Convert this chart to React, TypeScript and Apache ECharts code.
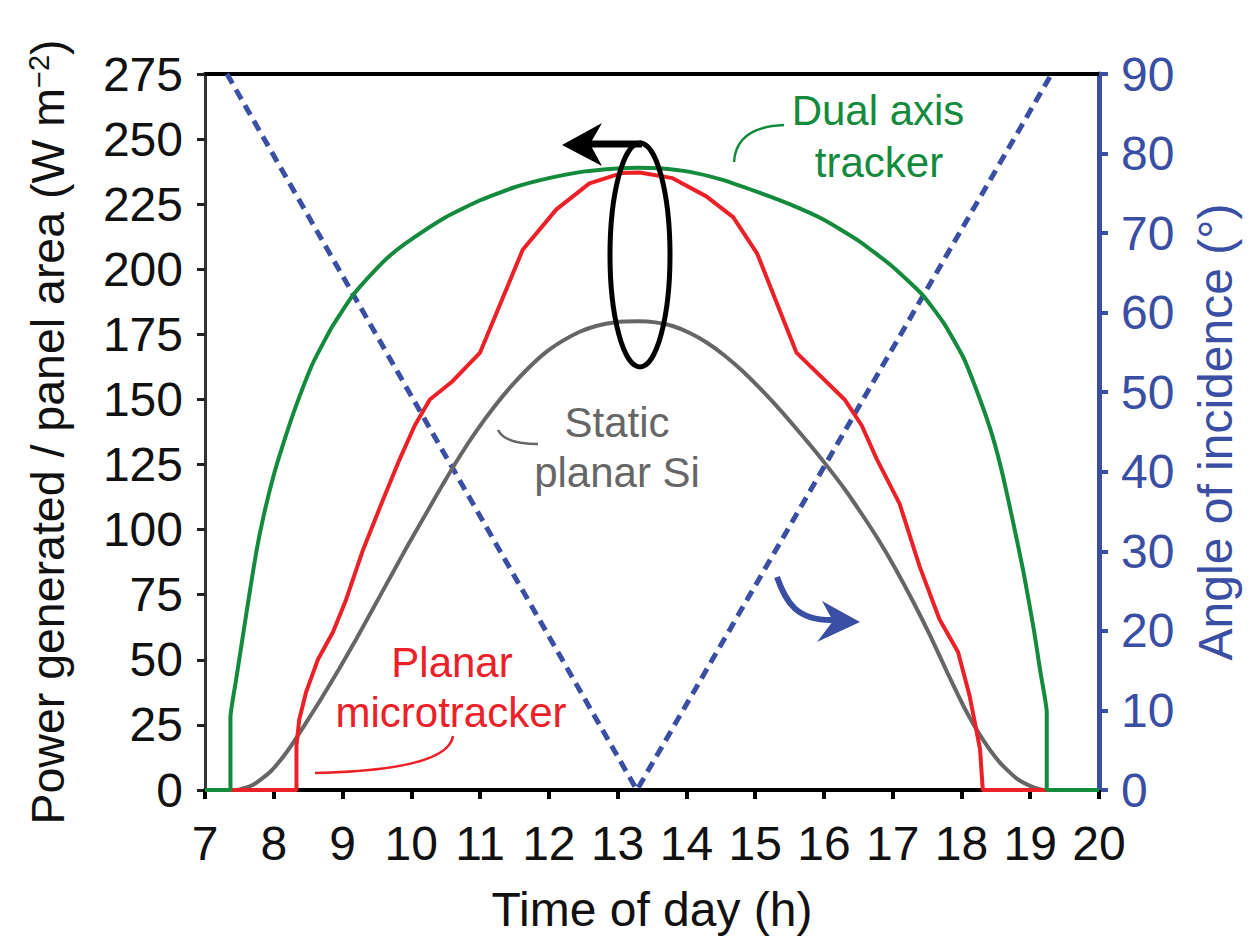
import React, { useEffect, useRef } from "react";
import * as echarts from "echarts";

const FONT = "'Liberation Sans', Arial, Helvetica, sans-serif";
const GREEN = "#138a3c";
const RED = "#ec2027";
const GRAY = "#666666";
const BLUE = "#3a4ea3";

// Time of day axis (h)
const timeMin = 7;
const timeMax = 20;
const timeStep = 1;
// Power axis (W m^-2)
const powerMin = 0;
const powerMax = 275;
const powerStep = 25;
// Angle axis (deg)
const angleMin = 0;
const angleMax = 90;
const angleStep = 10;

// [hour, W m^-2]
const dualAxisTracker: [number, number][] = [
  [7.0, 0], [7.37, 0], [7.37, 28], [7.45, 42], [7.55, 59], [7.65, 76], [7.75, 92],
  [7.85, 105], [8.0, 121], [8.15, 134], [8.33, 148], [8.57, 164], [8.85, 178],
  [9.15, 190], [9.45, 199], [9.7, 205.5], [10.0, 211.5], [10.5, 220], [11.0, 226.5],
  [11.5, 231.5], [12.0, 235], [12.5, 237.5], [13.0, 238.7], [13.3, 239], [13.6, 238.8],
  [14.05, 237.4], [14.5, 234.5], [15.0, 230], [15.5, 225], [16.0, 219], [16.5, 211],
  [17.0, 201], [17.44, 190], [17.75, 179], [18.03, 166], [18.27, 150], [18.45, 136],
  [18.6, 121], [18.75, 103], [18.9, 84], [19.05, 62], [19.15, 45], [19.24, 30],
  [19.24, 0], [20.0, 0],
];

const planarMicrotracker: [number, number][] = [
  [7.0, 0], [8.33, 0], [8.33, 17], [8.37, 27], [8.47, 37.6], [8.64, 50], [8.86, 60.6],
  [9.05, 73], [9.3, 92.4], [9.59, 111.6], [9.83, 127], [10.05, 140], [10.27, 150],
  [10.6, 157], [11.0, 168], [11.62, 207.5], [12.11, 223], [12.59, 233], [13.07, 237],
  [13.32, 237.2], [13.8, 235], [14.29, 228], [14.68, 220], [15.03, 206], [15.6, 168],
  [16.3, 150], [16.55, 140], [16.77, 127], [17.1, 110], [17.39, 86], [17.68, 65.6],
  [17.95, 53], [18.12, 36], [18.27, 15.7], [18.31, 0], [20.0, 0],
];

const staticPlanarSi: [number, number][] = [
  [7.0, 0], [7.46, 0], [7.7, 2], [7.95, 7], [8.2, 15], [8.45, 25], [8.7, 35.5],
  [8.95, 46.5], [9.2, 58], [9.45, 70], [9.7, 82], [9.95, 94], [10.2, 105.5],
  [10.45, 117], [10.7, 128], [10.95, 138], [11.2, 147], [11.45, 155], [11.7, 162],
  [11.95, 168], [12.2, 172.5], [12.45, 176], [12.7, 178.3], [12.95, 179.6],
  [13.3, 180], [13.55, 179.6], [13.8, 178.2], [14.05, 175.5], [14.3, 171.8],
  [14.55, 167], [14.8, 161.3], [15.05, 154.8], [15.3, 147.8], [15.55, 140.3],
  [15.8, 132.5], [16.05, 124.3], [16.3, 115.6], [16.55, 106], [16.8, 95.8],
  [17.05, 84.5], [17.3, 72.2], [17.55, 59], [17.8, 44.8], [18.05, 31.2], [18.3, 19.8],
  [18.55, 10.8], [18.8, 4.5], [19.05, 1], [19.2, 0], [20.0, 0],
];

// [hour, degrees]
const angleOfIncidence: [number, number][] = [
  [7.32, 90], [13.28, 0], [19.31, 90],
];

export default function App() {
  const ref = useRef<HTMLDivElement>(null);

  useEffect(() => {
    document.body.style.margin = "0";
    if (!ref.current) return;
    const chart = echarts.init(ref.current, undefined, { renderer: "svg" });

    const annText = (text: string, x: number, y: number, color: string) => ({
      type: "text",
      x,
      y,
      z: 100,
      style: {
        text,
        fill: color,
        fontSize: 42,
        fontFamily: FONT,
        align: "center",
        verticalAlign: "middle",
      },
    });

    const option: any = {
      animation: false,
      backgroundColor: "#ffffff",
      textStyle: { fontFamily: FONT },
      grid: { left: 205, right: 157, top: 74, bottom: 147, containLabel: false },
      xAxis: [
        {
          type: "value",
          min: timeMin,
          max: timeMax,
          interval: timeStep,
          position: "bottom",
          axisLine: { show: true, onZero: false, lineStyle: { color: "#000", width: 4 } },
          axisTick: { show: true, length: 9, lineStyle: { color: "#000", width: 4 } },
          axisLabel: { fontSize: 48, color: "#111", margin: 29, fontFamily: FONT },
          splitLine: { show: false },
          name: "Time of day (h)",
          nameLocation: "middle",
          nameGap: 95,
          nameTextStyle: { fontSize: 48, color: "#111", fontFamily: FONT },
        },
        {
          type: "value",
          min: timeMin,
          max: timeMax,
          position: "top",
          axisLine: { show: true, onZero: false, lineStyle: { color: "#000", width: 4 } },
          axisTick: { show: false },
          axisLabel: { show: false },
          splitLine: { show: false },
        },
      ],
      yAxis: [
        {
          type: "value",
          min: powerMin,
          max: powerMax,
          interval: powerStep,
          position: "left",
          axisLine: { show: true, lineStyle: { color: "#333", width: 3 } },
          axisTick: { show: true, length: 8, lineStyle: { color: "#222", width: 3 } },
          axisLabel: { fontSize: 48, color: "#111", margin: 22, fontFamily: FONT },
          splitLine: { show: false },
          name: "Power generated / panel area (W m{sup|−2})",
          nameLocation: "middle",
          nameGap: 134,
          nameRotate: 90,
          nameTextStyle: {
            fontSize: 46.5,
            color: "#111",
            fontFamily: FONT,
            rich: {
              sup: { fontSize: 29, fontFamily: FONT, color: "#111", verticalAlign: "top" },
            },
          },
        },
        {
          type: "value",
          min: angleMin,
          max: angleMax,
          interval: angleStep,
          position: "right",
          axisLine: { show: true, lineStyle: { color: BLUE, width: 5 } },
          axisTick: { show: true, length: 9, lineStyle: { color: BLUE, width: 4 } },
          axisLabel: { fontSize: 48, color: BLUE, margin: 22, fontFamily: FONT },
          splitLine: { show: false },
          name: "Angle of incidence (°)",
          nameLocation: "middle",
          nameGap: 92,
          nameRotate: 90,
          nameTextStyle: { fontSize: 48, color: BLUE, fontFamily: FONT },
        },
      ],
      series: [
        {
          name: "Angle of incidence",
          type: "line",
          yAxisIndex: 1,
          data: angleOfIncidence,
          symbol: "none",
          lineStyle: { color: BLUE, width: 5, type: [11, 7] },
          z: 2,
        },
        {
          name: "Static planar Si",
          type: "line",
          data: staticPlanarSi,
          symbol: "none",
          smooth: 0.2,
          lineStyle: { color: GRAY, width: 4 },
          z: 3,
        },
        {
          name: "Planar microtracker",
          type: "line",
          data: planarMicrotracker,
          symbol: "none",
          lineStyle: { color: RED, width: 4 },
          z: 4,
        },
        {
          name: "Dual axis tracker",
          type: "line",
          data: dualAxisTracker,
          symbol: "none",
          smooth: 0.15,
          lineStyle: { color: GREEN, width: 4 },
          z: 5,
        },
      ],
      graphic: [
        annText("Dual axis", 878, 110, GREEN),
        annText("tracker", 879, 162, GREEN),
        {
          type: "bezierCurve",
          z: 100,
          shape: { x1: 734, y1: 162, x2: 784, y2: 125, cpx1: 736, cpy1: 127 },
          style: { stroke: GREEN, lineWidth: 2.5, fill: "none" },
        },
        annText("Static", 617, 422, GRAY),
        annText("planar Si", 617, 472, GRAY),
        {
          type: "bezierCurve",
          z: 100,
          shape: { x1: 498, y1: 430, x2: 538, y2: 444, cpx1: 505, cpy1: 444 },
          style: { stroke: GRAY, lineWidth: 2.5, fill: "none" },
        },
        annText("Planar", 452, 662, RED),
        annText("microtracker", 451, 712, RED),
        {
          type: "bezierCurve",
          z: 100,
          shape: { x1: 315, y1: 773, x2: 453, y2: 736, cpx1: 448, cpy1: 770 },
          style: { stroke: RED, lineWidth: 2.5, fill: "none" },
        },
        {
          type: "ellipse",
          z: 100,
          shape: { cx: 640, cy: 255, rx: 30, ry: 112 },
          style: { fill: "none", stroke: "#000", lineWidth: 5 },
        },
        {
          type: "line",
          z: 100,
          shape: { x1: 642, y1: 144, x2: 588, y2: 144 },
          style: { stroke: "#000", lineWidth: 7 },
        },
        {
          type: "polygon",
          z: 100,
          shape: { points: [[562, 145], [602, 123], [590, 144], [602, 166]] },
          style: { fill: "#000" },
        },
        {
          type: "bezierCurve",
          z: 100,
          shape: { x1: 777, y1: 577, x2: 834, y2: 620, cpx1: 786, cpy1: 603, cpx2: 797, cpy2: 621 },
          style: { stroke: BLUE, lineWidth: 6, fill: "none" },
        },
        {
          type: "polygon",
          z: 100,
          shape: { points: [[860, 622], [822, 601], [833, 621], [817, 642]] },
          style: { fill: BLUE },
        },
      ],
    };

    chart.setOption(option);
    return () => chart.dispose();
  }, []);

  return <div ref={ref} style={{ width: 1256, height: 938 }} />;
}
